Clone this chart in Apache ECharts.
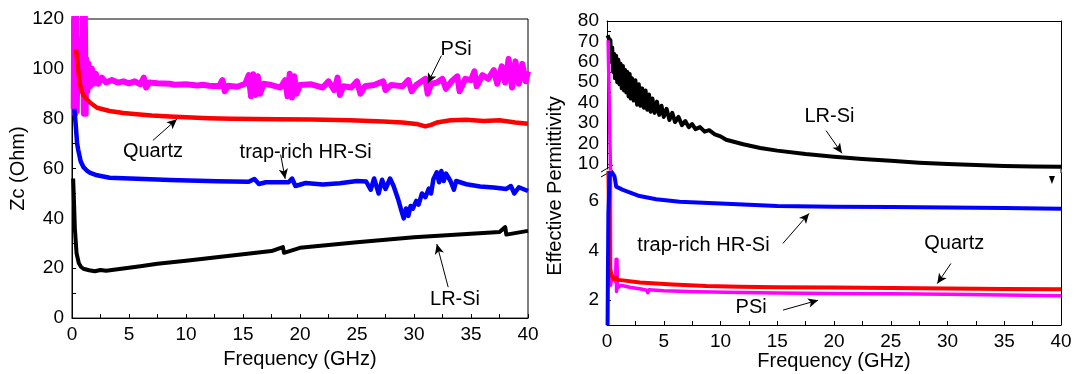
<!DOCTYPE html>
<html><head><meta charset="utf-8">
<script src="https://cdn.jsdelivr.net/npm/echarts@6/dist/echarts.min.js"></script>
<style>html,body{margin:0;padding:0;background:#fff}#c{width:1076px;height:374px}</style>
</head><body><div id="c"></div>
<script>
// ---------------- DATA (frequency GHz, value) ----------------
// Left panel: characteristic impedance Zc (Ohm)
const zcPSi = [[0.15,84],[0.2,125],[0.28,82],[0.35,125],[0.42,83],[0.5,112],[0.6,95],[0.7,110],[0.8,94],[0.9,104],[0.97,125],[1.05,82],[1.12,125],[1.2,82],[1.25,104],[1.35,91],[1.45,102],[1.6,93],[1.75,100],[1.9,94],[2.1,98],[2.3,94],[2.6,96.5],[3.0,94.5],[3.5,95.5],[4,94.5],[4.5,95],[5,94.2],[5.5,95],[6,93.8],[6.3,96.5],[6.5,92.5],[6.8,94.5],[7.5,94.2],[8.6,94],[9,93.6],[10,93.8],[11,93.3],[11.5,93.6],[12,93.2],[12.9,93],[13.2,95.5],[13.4,91],[13.7,93.2],[14.5,92.8],[15.2,94],[15.5,97.5],[15.7,89],[15.9,97.8],[16.1,89.5],[16.3,97],[16.5,90],[16.8,94],[17.5,93.5],[18.3,92.5],[18.7,95.5],[18.9,89],[19.1,98],[19.3,88.5],[19.5,97],[19.7,90],[20,93.5],[21,93.8],[22,92.5],[22.5,95],[23,91.5],[23.3,96.5],[23.5,89.5],[23.8,93],[24.5,92.5],[25,95],[25.3,90],[25.7,93],[26.5,93.5],[27.3,95],[27.5,91.5],[28,93.5],[29,93],[29.5,95.5],[29.8,91],[30.2,93.5],[31,96],[31.2,90],[31.5,94],[32,94.5],[32.5,96],[32.8,92],[33.3,95],[33.8,97],[34,91],[34.5,96],[35,95.5],[35.3,99],[35.5,93],[36,97.5],[36.5,96],[37,99.5],[37.3,94],[37.7,101],[38,94.5],[38.3,104],[38.6,92.5],[38.9,103],[39.2,94],[39.5,102],[39.8,95],[40,99]];
const zcQuartz = [[0.35,108],[0.5,102],[0.65,95],[0.8,91.6],[1.0,89.6],[1.3,87.8],[1.6,86.4],[2.2,84.4],[3.3,83.1],[4.5,82.3],[5.7,81.8],[7,81.3],[8.6,80.9],[10,80.6],[12,80.2],[14,80],[16,79.9],[18,79.8],[21,79.7],[24.4,79.4],[27.3,78.9],[29,78.5],[30.2,77.9],[31,76.9],[31.5,77.5],[32,78.5],[33.2,79.4],[34.6,79.6],[36.1,79.1],[37.5,79.4],[38.9,78.5],[40,78]];
const zcTrapRich = [[0.2,84],[0.3,79],[0.45,70],[0.55,67.4],[0.76,62.9],[1.0,60.6],[1.3,59.2],[1.6,58.3],[2.2,57.3],[3.3,56.3],[5.7,55.9],[8.6,55.4],[12.7,54.9],[15.5,54.7],[16,55.8],[16.4,53.8],[17,54.5],[19,54.5],[19.3,56],[19.6,53],[20.5,54.2],[22,53.6],[23.5,54.1],[25,55],[25.8,54.8],[26.2,51.5],[26.5,56],[26.9,50],[27.2,55.5],[27.5,51.8],[27.9,56],[28.2,53.1],[28.6,47.8],[28.9,43],[29.1,40],[29.3,44],[29.5,41],[29.7,45],[29.9,43.9],[30.2,47],[30.4,45.5],[30.7,50],[31.0,48.5],[31.3,52],[31.5,50],[31.7,55.7],[32.0,58.5],[32.2,54.5],[32.4,59],[32.6,55],[32.8,58],[33.2,55],[33.5,51.5],[33.7,55],[34.6,53.7],[35.8,52.8],[37,52.4],[38.1,51.8],[38.5,53],[38.8,50],[39.2,52.5],[40,51]];
const zcLRSi = [[0.1,56],[0.15,50],[0.25,36],[0.4,26],[0.6,22],[0.8,20.5],[1,19.8],[1.5,19.2],[2,18.8],[2.5,19.3],[3,19],[4,19.6],[5,20.2],[6,20.8],[7.5,21.8],[10,23],[12.5,24.3],[15,25.6],[17.5,26.9],[18.5,28.5],[18.6,26.2],[20,28.2],[22.5,29.3],[25,30.4],[27.5,31.4],[30,32.4],[32.5,33.1],[35,33.8],[37.5,34.5],[38,36.5],[38.1,33.5],[40,35]];

// Right panel: effective permittivity
const epsLRSi = [[0.05,73],[0.15,71.5],[0.3,70.5],[0.38,60],[0.46,67],[0.54,55],[0.62,64],[0.7,52],[0.8,63],[0.9,50],[1.0,61],[1.1,49],[1.2,59],[1.3,47],[1.4,58],[1.5,46],[1.6,56],[1.7,45],[1.8,55],[1.9,43],[2.0,54],[2.1,42],[2.2,52],[2.35,41],[2.5,51],[2.65,39],[2.8,49],[2.95,38.5],[3.1,47],[3.25,37.5],[3.4,46],[3.55,36.5],[3.7,44],[3.85,35.5],[4.0,42],[4.2,35],[4.4,40.5],[4.6,34],[4.8,38.5],[5.0,33],[5.25,37],[5.5,31.5],[5.75,35],[6,30.5],[6.3,33],[6.6,29],[6.9,31],[7.2,28],[7.5,29.5],[7.8,27],[8.2,28],[8.6,25.8],[9,26.5],[9.5,24.5],[10,23.5],[10.5,21.8],[12,19.6],[13.5,17.8],[15,16.5],[17.5,14.8],[20,13.5],[22.5,12.4],[25,11.5],[27.5,10.6],[30,10],[32.5,9.4],[35,9.0],[37.5,8.7],[40,8.6]];
const epsTrapRich = [[0.05,1.0],[0.12,5.5],[0.25,7.2],[0.45,7.15],[0.66,7.0],[0.81,6.58],[1.4,6.45],[2.87,6.2],[4.34,6.07],[6.4,5.97],[10,5.9],[15,5.8],[20,5.77],[25,5.76],[30,5.74],[35,5.72],[40,5.69]];
const epsQuartz = [[0.12,7.3],[0.25,3.3],[0.4,3.0],[0.6,2.85],[0.8,2.9],[1.0,2.82],[1.4,2.8],[2.9,2.71],[5.8,2.63],[8.75,2.57],[11.7,2.54],[15,2.52],[20,2.51],[25,2.49],[30,2.47],[35,2.45],[40,2.44]];
const epsPSi = [[0.1,70.6],[0.25,70.6],[0.32,2.6],[0.45,3.0],[0.6,2.85],[0.75,2.75],[0.8,3.65],[0.84,2.35],[0.88,3.65],[0.93,2.5],[1.2,2.6],[2,2.52],[3,2.45],[3.5,2.4],[3.6,2.3],[3.7,2.42],[5,2.38],[8,2.34],[11.7,2.31],[15,2.29],[20,2.27],[25,2.26],[30,2.24],[35,2.21],[40,2.18]];

// Tick label values
const zcTicks = [0,20,40,60,80,100,120];
const epsUpperLabels = [10,20,30,40,50,60,70,80];
const epsUpperTicks = [10,15,20,25,30,35,40,45,50,55,60,65,70,75,80];
const epsLowerLabels = [2,4,6];
const epsLowerTicks = [1,2,3,4,5,6,7];

// Annotation texts (series names)
const names = {psi:'PSi', quartz:'Quartz', trap:'trap-rich HR-Si', lr:'LR-Si'};

// ---------------- LAYOUT / STYLE ----------------
const FONT = 'Liberation Sans, Arial, sans-serif';
const C = {psi:'#ff00ff', quartz:'#ff0000', trap:'#0000ff', lr:'#000000'};
const tickFS = 19, titleFS = 20, annFS = 20;

// annotation anchors in data units
const leftAnn = {
  text: [[names.psi,33.7,107.8],[names.quartz,7.1,66.8],[names.trap,20.5,66.6],[names.lr,33.6,7.6]],
  arrows: [[[32.4,105.3],[31.2,94.2]],[[7.1,71.3],[9.2,79.8]],[[18.3,65.6],[18.7,55.9]],[[33.0,12.4],[32.0,29.7]]]
};
const rightUpperAnn = {
  text: [[names.lr,19.6,33.2]],
  arrows: [[[19.3,26.3],[20.7,15.2]]]
};
const rightLowerAnn = {
  text: [[names.trap,8.5,4.22],[names.quartz,30.6,4.29],[names.psi,12.7,1.70]],
  arrows: [[[15.5,4.29],[17.8,5.50]],[[30.3,3.48],[29.1,2.67]],[[15.5,1.60],[18.6,2.0]]],
  marker: [39.2,6.85]
};

function mark(ann){
  const mpData = ann.text.map(t => ({name:t[0], coord:[t[1],t[2]]}));
  if (ann.marker) mpData.push({name:'', coord:ann.marker, symbol:'triangle', symbolRotate:180, symbolSize:[6,8], itemStyle:{color:'#000'}, label:{show:false}});
  return {
    markPoint:{
      silent:true, animation:false, symbol:'rect', symbolSize:1,
      itemStyle:{color:'rgba(0,0,0,0)'},
      label:{show:true, position:'inside', formatter:'{b}', color:'#000', fontSize:annFS, fontFamily:FONT},
      data: mpData
    },
    markLine:{
      silent:true, animation:false, symbol:['none','arrow'], symbolSize:[7,10],
      label:{show:false}, lineStyle:{color:'#000', width:1, type:'solid'},
      data: ann.arrows.map(a => [{coord:a[0]},{coord:a[1]}])
    }
  };
}

function line(name, data, color, width, xi, yi, extra){
  return Object.assign({
    type:'line', name, data, xAxisIndex:xi, yAxisIndex:yi,
    showSymbol:false, symbol:'none', sampling:null, clip:true, silent:true,
    lineStyle:{color, width, join:'round'}, itemStyle:{color}
  }, extra||{});
}

const axisLineStyle = {lineStyle:{color:'#000', width:1}, onZero:false};
const tickStyle = {inside:true, length:4, lineStyle:{color:'#000', width:1}};
const labelStyle = {color:'#000', fontSize:tickFS, fontFamily:FONT};

function freqAxis(gridIndex){
  return {
    gridIndex, type:'value', min:0, max:40, interval:5,
    axisLine:axisLineStyle, axisTick:tickStyle,
    minorTick:{show:true, splitNumber:2, length:4, lineStyle:{color:'#000', width:1}},
    axisLabel:Object.assign({margin:7}, labelStyle),
    splitLine:{show:false}, minorSplitLine:{show:false},
    name:'Frequency (GHz)', nameLocation:'middle', nameGap:21,
    nameTextStyle:{color:'#000', fontSize:titleFS, fontFamily:FONT}
  };
}

const option = {
  animation:false,
  backgroundColor:'#fff',
  grid:[
    {left:72, top:19, width:456, height:306, show:true, borderColor:'#000', borderWidth:1, backgroundColor:'transparent'},
    {left:607, top:21, width:454, height:148},
    {left:607, top:173, width:454, height:152}
  ],
  xAxis:[
    freqAxis(0),
    {gridIndex:1, type:'value', min:0, max:40, position:'top', axisLine:axisLineStyle, axisTick:{show:false}, axisLabel:{show:false}, splitLine:{show:false}},
    freqAxis(2)
  ],
  yAxis:[
    {gridIndex:0, type:'value', min:0, max:120, interval:20,
     axisLine:axisLineStyle, axisTick:tickStyle,
     minorTick:{show:true, splitNumber:2, length:4, lineStyle:{color:'#000', width:1}},
     axisLabel:Object.assign({margin:8, customValues:zcTicks}, labelStyle),
     splitLine:{show:false}, minorSplitLine:{show:false},
     name:'Zc (Ohm)', nameLocation:'middle', nameGap:40,
     nameTextStyle:{color:'#000', fontSize:titleFS, fontFamily:FONT}},
    {gridIndex:1, type:'value', min:7.5, max:80,
     axisLine:axisLineStyle, axisTick:Object.assign({customValues:epsUpperTicks}, tickStyle),
     axisLabel:Object.assign({margin:8, customValues:epsUpperLabels}, labelStyle),
     splitLine:{show:false}},
    {gridIndex:1, type:'value', min:7.5, max:80, position:'right',
     axisLine:axisLineStyle, axisTick:{show:false}, axisLabel:{show:false}, splitLine:{show:false}},
    {gridIndex:2, type:'value', min:1, max:7.13,
     axisLine:axisLineStyle, axisTick:Object.assign({customValues:epsLowerTicks}, tickStyle),
     axisLabel:Object.assign({margin:8, customValues:epsLowerLabels}, labelStyle),
     splitLine:{show:false}},
    {gridIndex:2, type:'value', min:1, max:7.13, position:'right',
     axisLine:axisLineStyle, axisTick:{show:false}, axisLabel:{show:false}, splitLine:{show:false}}
  ],
  series:[
    // left panel
    line(names.psi, zcPSi, C.psi, 6, 0, 0),
    line(names.quartz, zcQuartz, C.quartz, 4.5, 0, 0),
    line(names.trap, zcTrapRich, C.trap, 4.5, 0, 0),
    line(names.lr, zcLRSi, C.lr, 4, 0, 0, mark(leftAnn)),
    // right panel, upper segment (only curves reaching above the break)
    line(names.lr, epsLRSi, C.lr, 4, 1, 1, mark(rightUpperAnn)),
    line(names.psi, epsPSi, C.psi, 3.5, 1, 1),
    // right panel, lower segment
    line(names.psi, epsPSi, C.psi, 3.5, 2, 3),
    line(names.quartz, epsQuartz, C.quartz, 4, 2, 3),
    line(names.trap, epsTrapRich, C.trap, 4, 2, 3, mark(rightLowerAnn))
  ],
  graphic:[
    {type:'text', x:555, y:186, rotation:Math.PI/2, silent:true,
     style:{text:'Effective Permittivity', fill:'#000', fontSize:titleFS, fontFamily:FONT, align:'center', verticalAlign:'middle'}},
    {type:'line', silent:true, shape:{x1:1061, y1:169, x2:1061, y2:173}, style:{stroke:'#000', lineWidth:1}},
    {type:'line', silent:true, shape:{x1:601, y1:172, x2:613, y2:165}, style:{stroke:'#000', lineWidth:1}},
    {type:'line', silent:true, shape:{x1:601, y1:177, x2:613, y2:170}, style:{stroke:'#000', lineWidth:1}}
  ]
};

const chart = echarts.init(document.getElementById('c'), null, {renderer:'canvas'});
chart.setOption(option);
</script>
</body></html>
